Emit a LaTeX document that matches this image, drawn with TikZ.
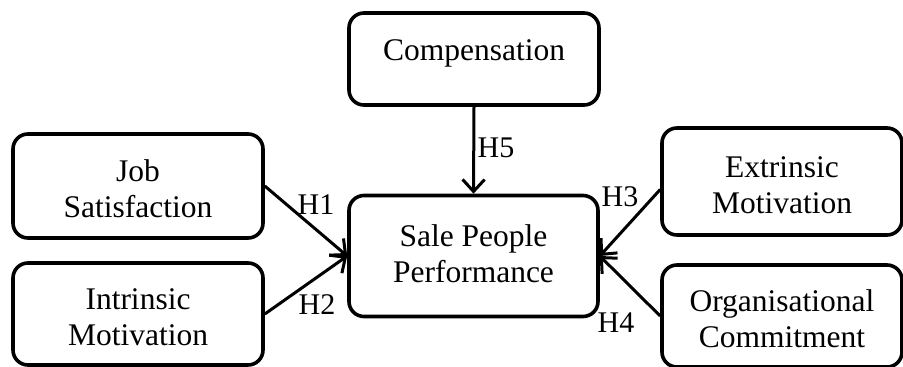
\documentclass[tikz,border=0pt]{standalone}
\usepackage{fontspec}
\setmainfont{Liberation Serif}
\usetikzlibrary{arrows.meta}
\begin{document}
\begin{tikzpicture}[x=1pt,y=-1pt,
  box/.style={draw, line width=3.6pt, rounded corners=15pt, inner sep=0pt},
  txt/.style={align=center, inner sep=0pt, font=\fontsize{31.5}{36}\selectfont},
  link/.style={line width=3pt, -{Straight Barb[length=12pt,width=22pt,line width=3pt]}},
  hlab/.style={font=\fontsize{30}{32}\selectfont, inner sep=0pt}]
\useasboundingbox (0,0) rectangle (903,367);
\node[box, minimum width=250pt, minimum height=92pt] (comp) at (474,59) {};
\node[box, minimum width=249pt, minimum height=121pt] (perf) at (473.5,256) {};
\node[box, minimum width=250pt, minimum height=104pt] (job) at (138,186) {};
\node[box, minimum width=250pt, minimum height=102pt] (intr) at (138,314) {};
\node[box, minimum width=240pt, minimum height=107pt] (extr) at (782,181.5) {};
\node[box, minimum width=240pt, minimum height=102pt] (org) at (782,316) {};
\node[txt, text height=22pt, text depth=22pt] (compt) at ([yshift=-1pt]comp.center) {Compensation};
\node[txt] (perft) at ([yshift=2pt]perf.center) {Sale People\\Performance};
\node[txt] (jobt) at ([yshift=-3pt]job.center) {Job\\Satisfaction};
\node[txt] (intrt) at ([yshift=-3pt]intr.center) {Intrinsic\\Motivation};
\node[txt] (extrt) at ([yshift=-4pt]extr.center) {Extrinsic\\Motivation};
\node[txt] (orgt) at ([yshift=-3pt]org.center) {Organisational\\Commitment};
\coordinate (e3) at ([yshift=-8pt]extr.west);
\draw[link] (comp.south) -- (perf.north);
\draw[link] (job.east) -- (perf.west);
\draw[link] (intr.east) -- (perf.west);
\draw[link] (e3) -- (perf.east);
\draw[link] (org.west) -- (perf.east);
\node[hlab] (h5) at (496,148) {H5};
\node[hlab] (h1) at (316,205) {H1};
\node[hlab] (h2) at (317,305) {H2};
\node[hlab] (h3) at (620,197) {H3};
\node[hlab] (h4) at (616,323) {H4};
\end{tikzpicture}
\end{document}
